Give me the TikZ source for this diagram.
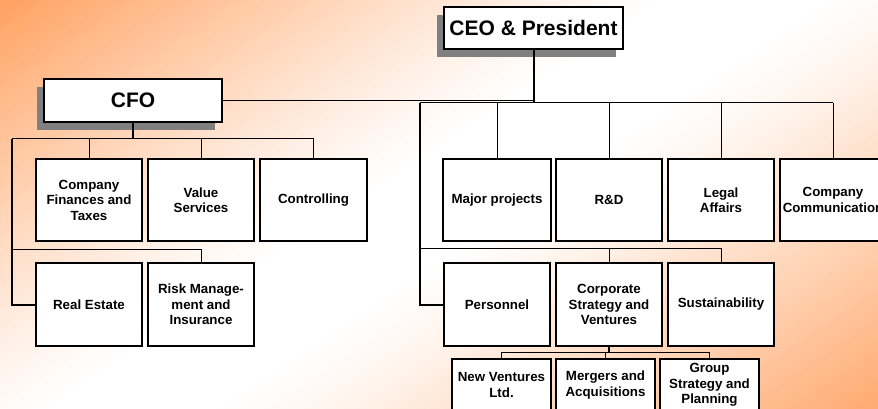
\documentclass[tikz,border=0pt]{standalone}
\usepackage{fontspec}
\setmainfont{Liberation Sans}
\usetikzlibrary{shadows}
\definecolor{bgor}{RGB}{255,160,95}
\definecolor{shadowgray}{RGB}{128,128,128}
\begin{document}
\begin{tikzpicture}[x=1pt,y=-1pt,
  box/.style={draw=black, line width=1.3pt, fill=white,
    font=\bfseries\fontsize{13.3}{15.5}\selectfont, align=center,
    inner sep=0pt, minimum width=106pt, minimum height=82pt},
  smallbox/.style={box, minimum width=99pt, minimum height=52pt},
  headbox/.style={draw=black, line width=1.3pt, fill=white,
    font=\bfseries\fontsize{21}{25}\selectfont, align=center, inner sep=0pt,
    drop shadow={shadow xshift=-7.5pt, shadow yshift=-8pt, fill=shadowgray, opacity=1}},
  ln/.style={draw=black, line width=1pt},
  thk/.style={draw=black, line width=2pt}]
\useasboundingbox (0,0) rectangle (878,409);
% background: diagonal gradient, orange in two corners
\begin{scope}
  \clip (0,0) rectangle (878,409);
  \fill[white] (0,0) rectangle (878,409);
  \foreach \i in {0,...,99}{
    \pgfmathsetmacro{\ta}{\i*14.91}
    \pgfmathsetmacro{\tb}{\ta+15.6}
    \pgfmathsetmacro{\s}{(\i+0.5)/100}
    \pgfmathsetmacro{\ua}{max(1-\s/0.45,0.001)}
    \pgfmathsetmacro{\ub}{max((\s-0.55)/0.45,0.001)}
    \pgfmathtruncatemacro{\p}{min(100,100*pow(\ua,1.2)+90*pow(\ub,1.2))}
    \fill[bgor!\p!white] (\ta+7.5,-5) -- (\tb+7.5,-5) -- (\tb-622.5,415) -- (\ta-622.5,415) -- cycle;
  }
\end{scope}

% head nodes
\node[headbox, minimum width=179pt, minimum height=42pt] (ceo) at (533.5,28) {CEO \& President};
\node[headbox, minimum width=178pt, minimum height=43pt] (cfo) at (133,100.5) {CFO};

% CFO departments
\node[box] (cf) at (89,200) {Company\\Finances and\\Taxes};
\node[box] (vs) at (201,200) {Value\\Services};
\node[box, minimum width=107pt] (ctrl) at (313.5,200) {Controlling};
\node[box, minimum height=83pt] (re) at (89,304.5) {Real Estate};
\node[box, minimum height=83pt] (risk) at (201,304.5) {Risk Manage-\\ment and\\Insurance};

% CEO departments
\node[box, minimum width=108pt] (mp) at (497,200) {Major projects};
\node[box] (rd) at (609,200) {R\&D};
\node[box] (la) at (721,200) {Legal\\Affairs};
\node[box] (cc) at (833,200) {Company\\Communication};
\node[box, minimum height=83pt] (pers) at (497,304.5) {Personnel};
\node[box, minimum height=83pt] (corp) at (609,304.5) {Corporate\\Strategy and\\Ventures};
\node[box, minimum height=83pt] (sust) at (721,304.5) {Sustainability};

% Corporate strategy sub units
\node[smallbox] (nv) at (501.5,385) {New Ventures\\Ltd.};
\node[smallbox] (ma) at (605.5,385) {Mergers and\\Acquisitions};
\node[smallbox] (gs) at (709.5,385) {Group\\Strategy and\\Planning};

% connectors: CEO
\coordinate (s0) at (420,103);
\draw[ln] (cfo.east) -- (cfo.east -| ceo.south);
\draw[ln] (s0) -- (cc.north |- s0);
\foreach \n in {mp,rd,la,cc} \draw[ln] (\n.north |- s0) -- (\n.north);
\draw[thk] (ceo.south) -- (ceo.south |- s0);
\draw[thk] (s0) |- (pers.west);
\coordinate (s1) at (420,248);
\draw[ln] (s1) -- (sust.north |- s1);
\draw[ln] (corp.north |- s1) -- (corp.north);
\draw[ln] (sust.north |- s1) -- (sust.north);
\coordinate (s2) at (500,352);
\draw[ln] (nv.north |- s2) -- (gs.north |- s2);
\draw[thk] (corp.south) -- (corp.south |- s2);
\foreach \n in {nv,ma,gs} \draw[ln] (\n.north |- s2) -- (\n.north);

% connectors: CFO
\coordinate (s3) at (12,139);
\draw[thk] (cfo.south) -- (cfo.south |- s3);
\draw[ln] (s3) -- (ctrl.north |- s3);
\foreach \n in {cf,vs,ctrl} \draw[ln] (\n.north |- s3) -- (\n.north);
\draw[thk] (s3) |- (re.west);
\coordinate (s4) at (12,249);
\draw[ln] (s4) -| (risk.north);
\end{tikzpicture}
\end{document}
